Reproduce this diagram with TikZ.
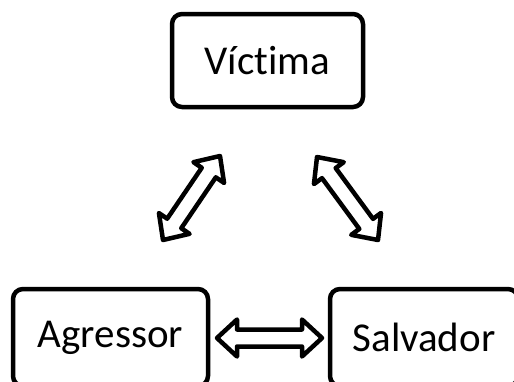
\documentclass[tikz,border=0pt]{standalone}
\usepackage{fontspec}
\setmainfont{Carlito}[Ligatures=NoCommon]
\usetikzlibrary{calc}
\tikzset{
  box/.style={draw=black, line width=4.5pt, rounded corners=10pt, fill=white,
    inner sep=0pt, font=\fontsize{41}{49}\selectfont, text=black},
  blockarrow/.style={draw=black, line width=4.5pt, line join=round, fill=white}
}
\newcommand\dblarr[3]{%
  \coordinate (#3p) at ($(#1)!20pt!(#2)$);
  \coordinate (#3q) at ($(#2)!20pt!(#1)$);
  \draw[blockarrow] (#1)
    -- ($(#3p)!18.5pt!90:(#2)$) -- ($(#3p)!8.5pt!90:(#2)$)
    -- ($(#3q)!8.5pt!-90:(#1)$) -- ($(#3q)!18.5pt!-90:(#1)$)
    -- (#2)
    -- ($(#3q)!18.5pt!90:(#1)$) -- ($(#3q)!8.5pt!90:(#1)$)
    -- ($(#3p)!8.5pt!-90:(#2)$) -- ($(#3p)!18.5pt!-90:(#2)$)
    -- cycle;}
\begin{document}
\begin{tikzpicture}[x=1pt,y=-1pt]
  \useasboundingbox (0,0) rectangle (514,381);
  \fill[white] (0,0) rectangle (514,381);
  \clip (0,0) rectangle (514,381);
  \node[box, minimum width=191pt, minimum height=93pt] (vic) at (267.5,60.5) {Víctima};
  \node[box, minimum width=195pt, minimum height=97pt] (agr) at (110.5,337.5) {Agressor};
  \node[box, minimum width=188pt, minimum height=97pt] (sal) at (424,337.5) {Salvador};
  % arrow end points
  \coordinate (h1) at (217,338);
  \coordinate (h2) at (322,338);
  \coordinate (l1) at (163,240);
  \coordinate (l2) at (220,156);
  \coordinate (r1) at (317,157);
  \coordinate (r2) at (378,240);
  \dblarr{h1}{h2}{ha}
  \dblarr{l1}{l2}{la}
  \dblarr{r1}{r2}{ra}
\end{tikzpicture}
\end{document}
